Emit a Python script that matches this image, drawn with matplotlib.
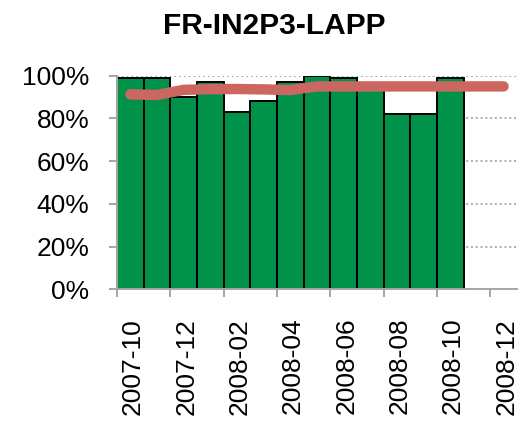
import matplotlib.pyplot as plt
from matplotlib.ticker import FixedLocator

plt.rcParams['font.family'] = ['Liberation Sans', 'DejaVu Sans']

# monthly data, 2007-10 .. 2008-12
months = ['2007-10', '2007-11', '2007-12', '2008-01', '2008-02', '2008-03',
          '2008-04', '2008-05', '2008-06', '2008-07', '2008-08', '2008-09',
          '2008-10', '2008-11', '2008-12']
availability = [99, 99, 90, 97, 83, 88, 97, 100, 99, 95, 82, 82, 99]
target = [91.3, 91.0, 93.4, 93.7, 93.8, 93.6, 93.3, 95, 95, 95, 95, 95, 95, 95, 95]
yticks = [0, 20, 40, 60, 80, 100]

fig = plt.figure(figsize=(5.2, 4.22), dpi=100)
ax = fig.add_axes([0.225, 0.3145, 0.769, 0.506])

x = list(range(len(months)))
ax.bar(x[:len(availability)], availability, width=1.0, color='#009249',
       edgecolor='black', linewidth=1.4, zorder=2)
ax.plot(x, target, color='#CC6660', linewidth=7.5, solid_capstyle='round', zorder=3)

ax.set_xlim(-0.5, len(months) - 0.5)
ax.set_ylim(0, 100)

# y axis
ax.set_yticks(yticks)
ax.set_yticklabels([f'{v}%' for v in yticks], fontsize=19)
ax.tick_params(axis='y', direction='out', length=5.8, width=1.4, color='#A6A6A6', pad=14)
ax.yaxis.grid(True, linestyle=':', color='#A0A0A0', linewidth=1.3, zorder=0)
ax.set_axisbelow(True)

# x axis: labels every other month, tick marks at category edges
ax.set_xticks([i + 0.1 for i in x[::2]])
ax.set_xticklabels(months[::2], rotation=90, fontsize=19)
ax.tick_params(axis='x', which='major', length=0, pad=20.5)
ax.xaxis.set_minor_locator(FixedLocator([i - 0.5 for i in x[::2]]))
ax.tick_params(axis='x', which='minor', direction='out', length=5.8, width=1.4, color='#A6A6A6')

for s in ['top', 'right']:
    ax.spines[s].set_visible(False)
for s in ['left', 'bottom']:
    ax.spines[s].set_color('#A6A6A6')
    ax.spines[s].set_linewidth(1.4)

fig.text(0.528, 1 - 33.5 / 422, 'FR-IN2P3-LAPP', ha='center', va='baseline',
         fontsize=21.5, fontweight='bold')

plt.savefig('out.png', dpi=100)
plt.close()
